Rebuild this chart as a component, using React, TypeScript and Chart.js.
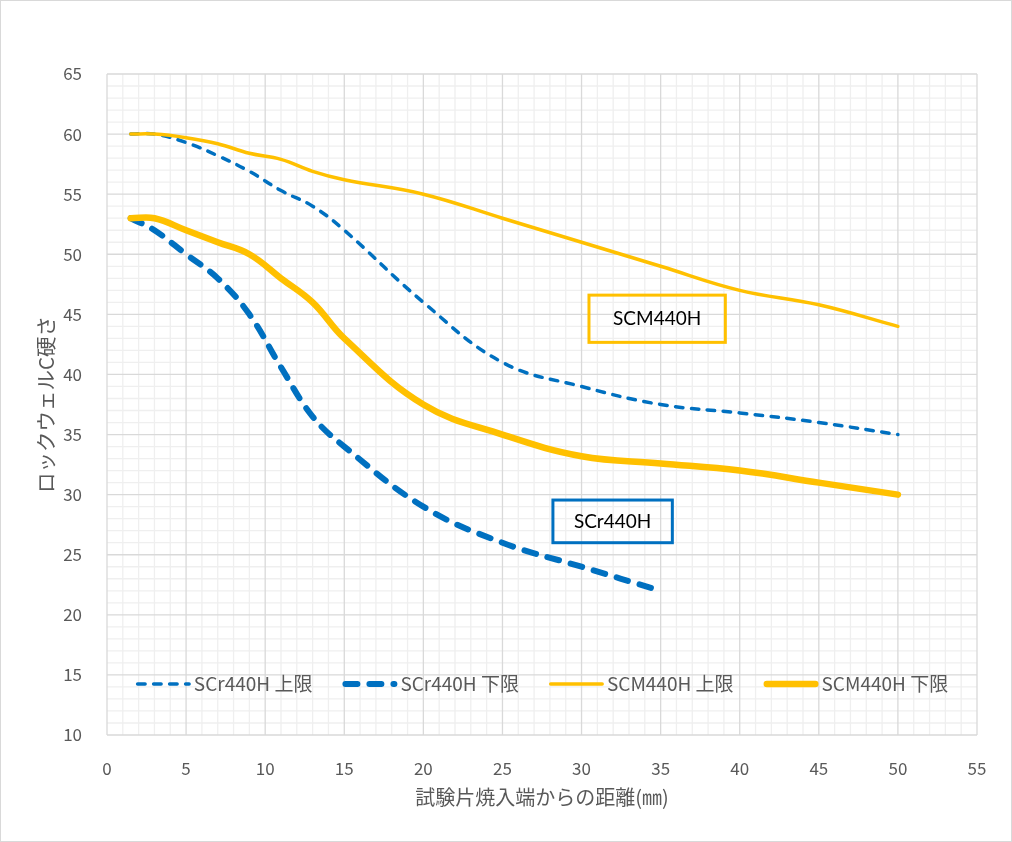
import React, { useEffect, useRef } from 'react';
import { Chart, registerables } from 'chart.js';

Chart.register(...registerables);

// ---- data ----
const distances = [1.5, 3, 5, 7, 9, 11, 13, 15, 20, 25, 30, 35, 40, 45, 50];
const scrLowerDistances = [1.5, 3, 5, 7, 9, 11, 13, 15, 20, 25, 30, 35];
const scr440hUpper = [60, 60, 59.3, 58.2, 56.9, 55.3, 54, 52, 46, 41, 39, 37.5, 36.8, 36, 35];
const scr440hLower = [53, 52, 50, 48, 45, 40.6, 36.5, 34, 29, 26, 24, 22];
const scm440hUpper = [60, 60, 59.7, 59.2, 58.4, 57.9, 56.9, 56.2, 55, 53, 51, 49, 47, 45.8, 44];
const scm440hLower = [53, 53, 52, 51, 50, 48, 46, 43, 37.5, 35, 33.2, 32.6, 32, 31, 30];
const seriesLabels = ['SCr440H 上限', 'SCr440H 下限', 'SCM440H 上限', 'SCM440H 下限'];
const boxLabels = ['SCM440H', 'SCr440H'];
const xAxisTitle = '試験片焼入端からの距離(㎜)';
const yAxisTitle = 'ロックウェルC硬さ';
const X_MIN = 0;
const X_MAX = 55;
const Y_MIN = 10;
const Y_MAX = 65;
const MAJOR_STEP = 5;
const MINOR_STEP = 1;

// ---- styles ----
const BLUE = '#0070C0';
const YELLOW = '#FFC000';
const TEXT = '#595959';
const FONT = "'Noto Sans CJK JP', 'Noto Sans', sans-serif";
const MAJOR_GRID = '#D9D9D9';
const MINOR_GRID = '#EFEFEF';

// annotation boxes in data units (left, right, top, bottom)
const boxGeometry = [
  { x0: 30.47, x1: 39.09, y0: 46.6, y1: 42.67, color: YELLOW },
  { x0: 28.19, x1: 35.74, y0: 29.55, y1: 26.0, color: BLUE },
];

const toPoints = (xs: number[], ys: number[]) => xs.map((x, i) => ({ x, y: ys[i] }));

const backgroundPlugin = {
  id: 'bg',
  beforeDraw(chart: any) {
    const { ctx, width, height } = chart;
    ctx.save();
    ctx.fillStyle = '#FFFFFF';
    ctx.fillRect(0, 0, width, height);
    ctx.strokeStyle = '#D9D9D9';
    ctx.lineWidth = 1;
    ctx.strokeRect(0.5, 0.5, width - 1, height - 1);
    ctx.restore();
  },
};

const gridPlugin = {
  id: 'customGrid',
  beforeDatasetsDraw(chart: any) {
    const { ctx, chartArea, scales } = chart;
    const xs = scales.x;
    const ys = scales.y;
    ctx.save();
    ctx.lineWidth = 1.3;
    const drawSet = (major: boolean) => {
      ctx.strokeStyle = major ? MAJOR_GRID : MINOR_GRID;
      ctx.beginPath();
      for (let v = X_MIN; v <= X_MAX; v += MINOR_STEP) {
        const isMajor = v % MAJOR_STEP === 0;
        if (isMajor !== major) continue;
        const px = xs.getPixelForValue(v);
        ctx.moveTo(px, chartArea.top);
        ctx.lineTo(px, chartArea.bottom);
      }
      for (let v = Y_MIN; v <= Y_MAX; v += MINOR_STEP) {
        const isMajor = v % MAJOR_STEP === 0;
        if (isMajor !== major) continue;
        const py = ys.getPixelForValue(v);
        ctx.moveTo(chartArea.left, py);
        ctx.lineTo(chartArea.right, py);
      }
      ctx.stroke();
    };
    drawSet(false);
    drawSet(true);
    ctx.restore();
  },
};

const boxPlugin = {
  id: 'boxes',
  afterDatasetsDraw(chart: any) {
    const { ctx, scales } = chart;
    ctx.save();
    boxGeometry.forEach((b, i) => {
      const l = scales.x.getPixelForValue(b.x0);
      const r = scales.x.getPixelForValue(b.x1);
      const t = scales.y.getPixelForValue(b.y0);
      const bt = scales.y.getPixelForValue(b.y1);
      ctx.strokeStyle = b.color;
      ctx.lineWidth = 3;
      ctx.setLineDash([]);
      ctx.strokeRect(l, t, r - l, bt - t);
      ctx.fillStyle = '#000000';
      ctx.font = "19px 'Lato', 'Liberation Sans', sans-serif";
      ctx.textAlign = 'center';
      ctx.textBaseline = 'middle';
      ctx.fillText(boxLabels[i], (l + r) / 2, (t + bt) / 2);
    });
    ctx.restore();
  },
};

const legendPlugin = {
  id: 'insideLegend',
  afterDraw(chart: any) {
    const { ctx, chartArea } = chart;
    const datasets = chart.data.datasets;
    ctx.save();
    ctx.font = `19px ${FONT}`;
    const sampleLen = 55;
    const sampleGap = 3;
    const itemGap = 30;
    const widths = datasets.map((ds: any) => ctx.measureText(ds.label).width);
    const total =
      widths.reduce((s: number, w: number) => s + sampleLen + sampleGap + w, 0) +
      itemGap * (datasets.length - 1);
    let x = (chartArea.left + chartArea.right) / 2 - total / 2;
    const y = chartArea.bottom - 51;
    datasets.forEach((ds: any, i: number) => {
      const lw = ds.borderWidth;
      ctx.strokeStyle = ds.borderColor;
      ctx.lineWidth = lw;
      ctx.lineCap = 'round';
      ctx.setLineDash(ds.borderDash || []);
      ctx.beginPath();
      ctx.moveTo(x + lw / 2, y);
      ctx.lineTo(x + sampleLen - lw / 2, y);
      ctx.stroke();
      ctx.setLineDash([]);
      ctx.fillStyle = TEXT;
      ctx.textAlign = 'left';
      ctx.textBaseline = 'middle';
      ctx.fillText(ds.label, x + sampleLen + sampleGap, y);
      x += sampleLen + sampleGap + widths[i] + itemGap;
    });
    ctx.restore();
  },
};

export default function App() {
  const ref = useRef<HTMLCanvasElement>(null);

  useEffect(() => {
    document.body.style.margin = '0';
    const canvas = ref.current;
    if (!canvas) return;
    const common = {
      pointRadius: 0,
      pointHoverRadius: 0,
      fill: false,
      tension: 0.4,
      borderCapStyle: 'round' as const,
      borderJoinStyle: 'round' as const,
    };
    const chart = new Chart(canvas, {
      type: 'line',
      data: {
        datasets: [
          {
            ...common,
            label: seriesLabels[0],
            data: toPoints(distances, scr440hUpper),
            borderColor: BLUE,
            borderWidth: 3.5,
            borderDash: [7.5, 8.5],
            order: 3,
          },
          {
            ...common,
            label: seriesLabels[1],
            data: toPoints(scrLowerDistances, scr440hLower),
            borderColor: BLUE,
            borderWidth: 6,
            borderDash: [12, 12],
            order: 2,
          },
          {
            ...common,
            label: seriesLabels[2],
            data: toPoints(distances, scm440hUpper),
            borderColor: YELLOW,
            borderWidth: 3.5,
            order: 1,
          },
          {
            ...common,
            label: seriesLabels[3],
            data: toPoints(distances, scm440hLower),
            borderColor: YELLOW,
            borderWidth: 6.5,
            order: 0,
          },
        ] as any,
      },
      options: {
        animation: false,
        responsive: false,
        devicePixelRatio: 1,
        layout: { padding: { top: 74, right: 35, bottom: 0, left: 0 } },
        plugins: {
          legend: { display: false },
          title: { display: false },
          tooltip: { enabled: false },
        },
        scales: {
          x: {
            type: 'linear',
            min: X_MIN,
            max: X_MAX,
            grid: { display: false },
            border: { display: false },
            ticks: {
              stepSize: MAJOR_STEP,
              autoSkip: false,
              maxRotation: 0,
              padding: 15,
              color: TEXT,
              font: { family: FONT, size: 17 },
            },
            title: {
              display: true,
              text: xAxisTitle,
              color: TEXT,
              font: { family: FONT, size: 20 },
              padding: { top: 0, bottom: 33 },
            },
            afterFit(scale: any) {
              scale.height = 107;
            },
          },
          y: {
            type: 'linear',
            min: Y_MIN,
            max: Y_MAX,
            grid: { display: false },
            border: { display: false },
            ticks: {
              stepSize: MAJOR_STEP,
              autoSkip: false,
              padding: 17,
              color: TEXT,
              font: { family: FONT, size: 17 },
            },
            title: {
              display: true,
              text: yAxisTitle,
              color: TEXT,
              font: { family: FONT, size: 20.5 },
              padding: { top: 34, bottom: 0 },
            },
            afterFit(scale: any) {
              scale.width = 107;
            },
          },
        },
      } as any,
      plugins: [backgroundPlugin, gridPlugin, boxPlugin, legendPlugin],
    });
    return () => chart.destroy();
  }, []);

  return (
    <div style={{ width: 1012, height: 842 }}>
      <canvas ref={ref} width={1012} height={842} style={{ display: 'block' }} />
    </div>
  );
}
